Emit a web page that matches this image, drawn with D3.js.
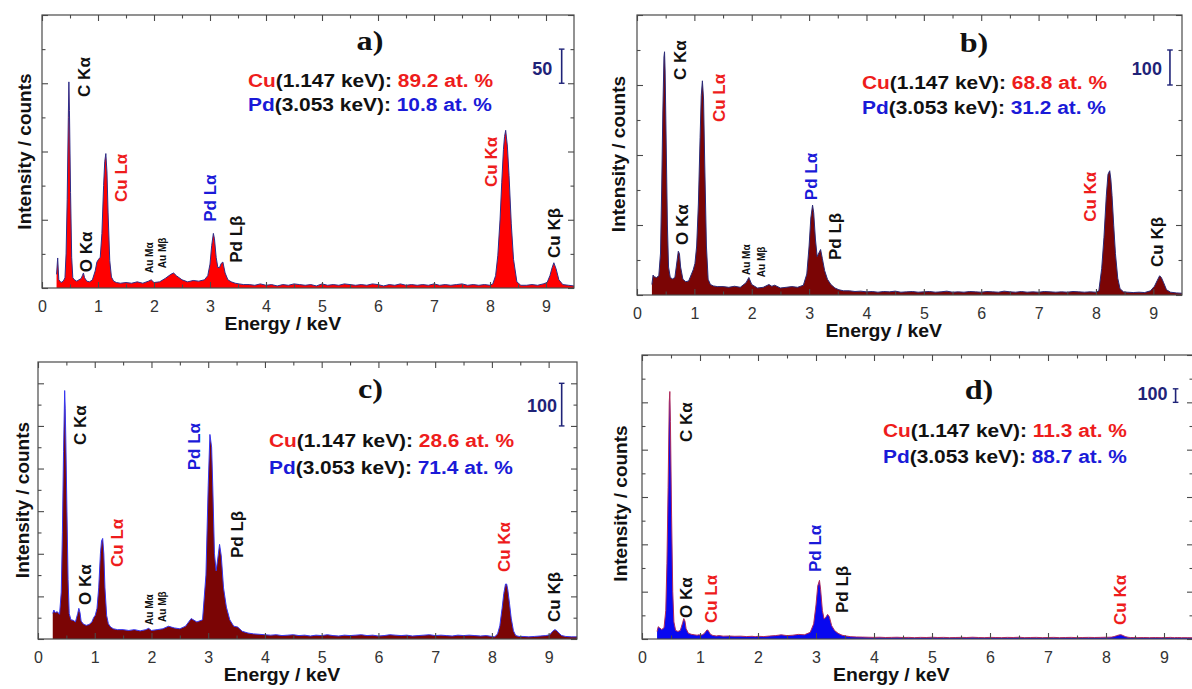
<!DOCTYPE html>
<html><head><meta charset="utf-8">
<script src="https://cdn.jsdelivr.net/npm/d3@7"></script>
<style>
body{margin:0;background:#fff}
svg{display:block}
text{font-family:"Liberation Sans",Arial,sans-serif}
text.serif{font-family:"Liberation Serif","Times New Roman",serif}
</style></head>
<body><svg id="chart" width="1192" height="689"></svg>
<script>
// ---------- DATA ----------
const energy = [
 0.26,0.28,0.30,0.34,0.38,0.41,0.43,0.45,0.47,0.48,0.49,0.51,0.53,0.55,0.58,0.62,0.66,0.70,0.72,0.74,0.76,0.80,0.85,0.90,0.95,0.98,1.01,1.04,1.07,1.10,1.12,1.14,1.16,1.18,1.21,1.24,1.28,1.33,1.40,
 1.50,1.60,1.70,1.80,1.90,1.95,2.00,2.10,2.20,2.30,2.35,2.40,2.50,2.60,2.70,2.80,
 2.90,2.96,3.00,3.03,3.06,3.08,3.11,3.14,3.17,3.20,3.23,3.27,3.32,3.38,3.45,3.52,3.60,
 3.7,3.8,3.9,4.0,4.1,4.2,4.3,4.4,4.5,4.6,4.7,4.8,4.9,5.0,5.1,5.2,5.3,5.4,5.5,5.6,5.7,5.8,5.9,6.0,6.1,6.2,6.3,6.4,6.5,6.6,6.7,6.8,6.9,7.0,7.1,7.2,7.3,7.4,7.5,7.6,7.7,7.8,7.9,
 8.00,8.05,8.10,8.14,8.18,8.21,8.24,8.26,8.28,8.31,8.34,8.38,8.42,8.48,8.55,8.65,8.75,8.85,8.95,9.02,9.07,9.11,9.14,9.18,9.23,9.30,9.40,9.50
];
const countsA = [
 20,44,12,8,10,15,50,130,250,302,260,140,45,15,12,10,12,14,18,22,15,10,9,12,25,38,42,45,80,150,185,197,170,110,40,16,10,8,7,
 8,7,9,7,10,12,8,9,14,20,22,18,12,9,11,10,
 12,18,35,62,80,72,45,30,30,36,38,22,12,9,7,6,5,
 5,4,6,4,5,3,5,4,6,5,4,5,3,6,4,5,4,6,5,4,5,4,6,5,3,5,4,6,4,5,4,5,4,6,4,5,4,5,6,4,5,4,5,
 4,6,18,48,101,155,203,222,231,208,165,94,42,9,4,4,5,4,6,8,18,30,37,28,12,5,4,3
];
const countsB = [
 30,57,52,50,55,120,300,520,680,695,640,420,200,80,50,46,50,100,125,118,80,45,38,40,60,72,90,140,260,450,570,612,560,380,140,45,30,26,24,
 24,22,25,22,35,50,30,20,22,30,25,28,20,22,24,22,
 28,60,140,220,257,235,160,110,120,130,105,70,45,30,20,15,12,
 12,10,11,9,10,8,10,9,11,8,9,10,8,9,10,8,9,11,8,9,8,10,9,8,10,9,8,11,9,8,10,8,9,8,10,9,8,9,8,10,9,8,9,
 8,12,75,165,282,345,355,330,285,198,118,48,18,9,8,7,8,7,12,25,42,55,50,35,15,8,6,5
];
const countsC = [
 60,68,62,64,58,110,250,440,583,540,470,300,140,60,45,44,40,60,72,62,42,35,32,34,40,50,56,72,120,200,230,236,200,120,55,36,28,24,22,
 22,20,22,19,22,25,20,22,24,30,28,26,24,30,48,40,
 45,150,360,480,450,360,200,160,190,222,195,120,75,45,30,28,18,
 14,12,11,10,9,10,8,9,10,8,9,7,9,8,10,8,7,9,8,9,10,8,9,7,8,10,9,8,9,7,8,9,10,8,9,8,7,9,8,9,8,7,8,
 6,5,12,31,72,107,129,129,116,84,49,19,8,6,6,5,6,7,8,10,18,22,20,14,8,6,5,5
];
const countsD = [
 56,91,84,70,84,210,560,1120,1750,1830,1610,910,350,126,63,56,63,119,151,133,77,42,35,31,28,31,28,31,39,56,67,64,49,35,28,25,22,25,21,
 22,20,21,18,20,17,20,18,22,25,28,31,25,28,34,31,
 49,112,252,392,434,364,210,147,161,182,165,98,63,42,28,22,17,
 15,14,13,12,13,11,12,13,11,12,10,12,11,13,11,12,10,11,12,11,13,11,10,12,11,10,12,11,13,10,11,12,10,11,12,10,11,12,10,11,12,11,12,
 13,13,14,18,24,28,31,31,28,22,17,13,11,11,10,11,10,11,10,11,11,12,11,10,11,10,10,9
];
const xTickLabels = [0,1,2,3,4,5,6,7,8,9];
const panelLetters = ["a)","b)","c)","d)"];
const cuPercent = ["89.2","68.8","28.6","11.3"];
const pdPercent = ["10.8","31.2","71.4","88.7"];
const scaleBarValues = [50,100,100,100];
const yMaxCounts = [400,800,650,2100];
const yMinorStep = [50,100,50,175];
// peak annotations: [label, energy(keV), counts at label start, colour key]
const peaksA = [["C Kα",0.75,280,"k"],["O Kα",0.785,23,"k"],["Cu Lα",1.42,126,"r"],["Au Mα",1.915,22,"s"],["Au Mβ",2.16,29,"s"],["Pd Lα",3.0,97,"b"],["Pd Lβ",3.47,37,"k"],["Cu Kα",8.01,148,"r"],["Cu Kβ",9.14,44,"k"]];
const peaksB = [["C Kα",0.755,614,"k"],["O Kα",0.78,143,"k"],["Cu Lα",1.43,494,"r"],["Au Mα",1.905,57,"s"],["Au Mβ",2.175,51,"s"],["Pd Lα",3.03,271,"b"],["Pd Lβ",3.46,100,"k"],["Cu Kα",7.89,209,"r"],["Cu Kβ",9.07,80,"k"]];
const peaksC = [["C Kα",0.744,455,"k"],["O Kα",0.824,80,"k"],["Cu Lα",1.397,169,"r"],["Au Mα",1.96,33,"s"],["Au Mβ",2.2,40,"s"],["Pd Lα",2.755,396,"b"],["Pd Lβ",3.513,190,"k"],["Cu Kα",8.22,157,"r"],["Cu Kβ",9.1,40,"k"]];
const peaksD = [["C Kα",0.762,1457,"k"],["O Kα",0.762,155,"k"],["Cu Lα",1.193,118,"r"],["Pd Lα",2.986,495,"b"],["Pd Lβ",3.45,192,"k"],["Cu Kα",8.236,104,"r"]];
// scale bar anchor: [energy, from counts, to counts, label energy, label counts]
const scaleBarsAt = [[9.28,300,350,9.11,312],[9.29,600,700,9.15,629],[9.23,500,600,9.15,532],[9.2,1750,1850,9.06,1767]];

// ---------- LAYOUT ----------
const layout = [
 {left:42, right:574, top:15, bottom:288, fill:"#ff0000", stroke:"#2e2e8a", ytx:24.2, yty:151.5, comp:[248,87,111], letter:[370,50]},
 {left:637, right:1182, top:15, bottom:295, fill:"#7b0505", stroke:"#2a2a78", ytx:618.3, yty:154, comp:[862,89,114], letter:[974,52]},
 {left:38, right:577, top:362, bottom:639, fill:"#7b0505", stroke:"#3535f0", ytx:22.5, yty:500, comp:[269,447,474], letter:[370.5,398]},
 {left:642, right:1193, top:355, bottom:639, fill:"#0808f0", stroke:"#b02a5a", ytx:620, yty:503.5, comp:[883,437,463], letter:[979,399]}
];
const series = [countsA,countsB,countsC,countsD];
const peaks = [peaksA,peaksB,peaksC,peaksD];
const colorKey = {k:"#111111", r:"#ee1c1c", b:"#1a1ad8", s:"#111111"};
const RED="#ee1c1c", BLUE="#1a1ad8", NAVY="#1f2378", FRAME="#4a4a4a";

const svg = d3.select("#chart");

layout.forEach((L,i)=>{
  const g = svg.append("g");
  const x = d3.scaleLinear().domain([0,9.5]).range([L.left,L.right]);
  const y = d3.scaleLinear().domain([0,yMaxCounts[i]]).range([L.bottom,L.top]);
  const data = energy.map((e,k)=>({e, c:series[i][k]}));

  const clipId = "clip"+i;
  g.append("clipPath").attr("id",clipId).append("rect")
    .attr("x",L.left).attr("y",L.top).attr("width",L.right-L.left).attr("height",L.bottom-L.top);

  const area = d3.area().x(d=>x(d.e)).y0(y(0)).y1(d=>y(d.c));
  const line = d3.line().x(d=>x(d.e)).y(d=>y(d.c));
  const pg = g.append("g").attr("clip-path",`url(#${clipId})`);
  pg.append("path").datum(data).attr("d",area).attr("fill",L.fill);
  pg.append("path").datum(data).attr("d",line).attr("fill","none").attr("stroke",L.stroke).attr("stroke-width",1);

  // ticks (inward on all four sides)
  const xMajor = xTickLabels;
  const xMinor = d3.range(0.5,9.5,1);
  const yMajor = d3.range(0,yMaxCounts[i]+1,yMinorStep[i]*2);
  const yMinor = d3.range(yMinorStep[i],yMaxCounts[i],yMinorStep[i]*2);
  const tickStyle = sel => { sel.select(".domain").remove(); sel.selectAll("line").attr("stroke",FRAME).attr("stroke-width",1.1); sel.selectAll("text").remove(); };
  g.append("g").attr("transform",`translate(0,${L.bottom})`).call(d3.axisBottom(x).tickValues(xMajor).tickSize(-6)).call(tickStyle);
  g.append("g").attr("transform",`translate(0,${L.bottom})`).call(d3.axisBottom(x).tickValues(xMinor).tickSize(-3.5)).call(tickStyle);
  g.append("g").attr("transform",`translate(0,${L.top})`).call(d3.axisTop(x).tickValues(xMajor).tickSize(-6)).call(tickStyle);
  g.append("g").attr("transform",`translate(0,${L.top})`).call(d3.axisTop(x).tickValues(xMinor).tickSize(-3.5)).call(tickStyle);
  g.append("g").attr("transform",`translate(${L.left},0)`).call(d3.axisLeft(y).tickValues(yMajor).tickSize(-6)).call(tickStyle);
  g.append("g").attr("transform",`translate(${L.left},0)`).call(d3.axisLeft(y).tickValues(yMinor).tickSize(-3.5)).call(tickStyle);
  g.append("g").attr("transform",`translate(${L.right},0)`).call(d3.axisRight(y).tickValues(yMajor).tickSize(-6)).call(tickStyle);
  g.append("g").attr("transform",`translate(${L.right},0)`).call(d3.axisRight(y).tickValues(yMinor).tickSize(-3.5)).call(tickStyle);

  // frame
  g.append("rect").attr("x",L.left).attr("y",L.top).attr("width",L.right-L.left).attr("height",L.bottom-L.top)
    .attr("fill","none").attr("stroke",FRAME).attr("stroke-width",1.2);

  // x tick labels
  const lab = g.append("g").attr("transform",`translate(0,${L.bottom})`)
    .call(d3.axisBottom(x).tickValues(xTickLabels).tickSize(0).tickPadding(13).tickFormat(d3.format("d")));
  lab.select(".domain").remove();
  lab.selectAll("text").attr("font-size",16).attr("fill","#333").style("font-family","'Liberation Sans', Arial, sans-serif");

  // axis titles
  g.append("text").attr("transform",`translate(${x(4.3)},${L.bottom+42}) scale(1.08,1)`)
    .attr("text-anchor","middle").attr("font-weight","bold").attr("font-size",18).attr("fill","#111").text("Energy / keV");
  g.append("text").attr("transform",`translate(${L.ytx},${L.yty}) rotate(-90)`).attr("dy","0.35em")
    .attr("text-anchor","middle").attr("font-weight","bold").attr("font-size",19).attr("fill","#111").text("Intensity / counts");

  // peak labels
  peaks[i].forEach(p=>{
    const small = p[3]==="s";
    g.append("text").attr("transform",`translate(${x(p[1])},${y(p[2])}) rotate(-90)`)
      .attr("dy","0.35em").attr("text-anchor","start").attr("font-weight","bold")
      .attr("font-size", small?10:17).attr("fill",colorKey[p[3]]).text(p[0]);
  });

  // panel letter (serif)
  g.append("text").attr("class","serif").attr("transform",`translate(${L.letter[0]},${L.letter[1]}) scale(1.15,1)`)
    .attr("text-anchor","middle")
    .attr("font-weight","bold").attr("font-size",28).attr("fill","#111").text(panelLetters[i]);

  // composition text
  const t1 = g.append("text").attr("transform",`translate(${L.comp[0]},${L.comp[1]}) scale(1.1,1)`)
    .attr("font-weight","bold").attr("font-size",19).style("white-space","pre");
  t1.append("tspan").attr("fill",RED).text("Cu");
  t1.append("tspan").attr("fill","#111").text("(1.147 keV): ");
  t1.append("tspan").attr("fill",RED).text(cuPercent[i]+" at. %");
  const t2 = g.append("text").attr("transform",`translate(${L.comp[0]},${L.comp[2]}) scale(1.1,1)`)
    .attr("font-weight","bold").attr("font-size",19).style("white-space","pre");
  t2.append("tspan").attr("fill",BLUE).text("Pd");
  t2.append("tspan").attr("fill","#111").text("(3.053 keV): ");
  t2.append("tspan").attr("fill",BLUE).text(pdPercent[i]+" at. %");

  // scale bar
  const sb = scaleBarsAt[i];
  const bx = x(sb[0]), by0 = y(sb[1]), by1 = y(sb[2]);
  g.append("line").attr("x1",bx).attr("x2",bx).attr("y1",by0).attr("y2",by1).attr("stroke",NAVY).attr("stroke-width",1.6);
  [by0,by1].forEach(yy=>g.append("line").attr("x1",bx-2.8).attr("x2",bx+2.8).attr("y1",yy).attr("y2",yy).attr("stroke",NAVY).attr("stroke-width",1.4));
  g.append("text").attr("x",x(sb[3])).attr("y",y(sb[4])).attr("text-anchor","end")
    .attr("font-weight","bold").attr("font-size",18).attr("fill",NAVY).text(scaleBarValues[i]);
});
</script>
</body></html>
